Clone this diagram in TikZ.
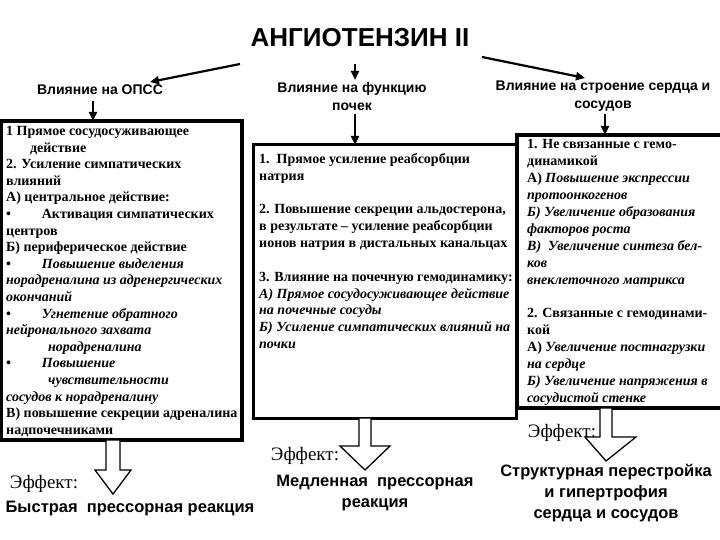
\documentclass[tikz,border=0pt]{standalone}
\usepackage{fontspec}
\setmainfont{Liberation Serif}
\newfontfamily\hsans{Liberation Sans}
\usetikzlibrary{arrows.meta}
\begin{document}
\begin{tikzpicture}[x=1pt,y=-1pt,
  arr/.style={-{Triangle[length=9pt,width=8pt]},line width=2.2pt},
  txt/.style={anchor=north west,align=left,font=\fontsize{14}{#1}\selectfont\bfseries,inner sep=0pt},
  head/.style={font=\hsans\bfseries\fontsize{14}{18}\selectfont,align=center},
  eff/.style={font=\fontsize{19}{21}\selectfont},
  res/.style={font=\hsans\bfseries\fontsize{16.5}{21}\selectfont,align=center},
  blk/.style={draw,line width=1.3pt,fill=white}]
\useasboundingbox (0,0) rectangle (720,540);
\node[font=\hsans\bfseries\fontsize{26}{28}\selectfont] (title) at (360,38) {АНГИОТЕНЗИН II};
\node[head] (h1) at (100,90) {Влияние на ОПСС};
\node[head] (h2) at (352,96) {Влияние на функцию\\почек};
\node[head] (h3) at (603,96) {Влияние на строение сердца и\\сосудов};
\coordinate (a1s) at (240,64); \coordinate (a1e) at (150,82);
\coordinate (a2s) at (355,64); \coordinate (a2e) at (355,80);
\coordinate (a3s) at (482,57); \coordinate (a3e) at (585,78);
\draw[arr] (a1s) -- (a1e);
\draw[arr] (a2s) -- (a2e);
\draw[arr] (a3s) -- (a3e);
% boxes
\draw[line width=3.5pt] (1,121) rectangle (242,440);
\draw[line width=3pt] (253,145) rectangle (516,418);
\draw[line width=4.5pt] (517,135) rectangle (722,408);
\coordinate (b1) at (93,121); \coordinate (b2) at (355,145); \coordinate (b3) at (605,135);
\draw[arr] (93,101) -- (b1);
\draw[arr] (355,114) -- (b2);
\draw[arr] (605,114) -- (b3);
\node[txt=16.6] (t1) at (6,126) {1 Прямое сосудосуживающее\\
\hspace{1.7em}действие\\
2. Усиление симпатических\\
влияний\\
А) центральное действие:\\
•\hspace{2.2em}Активация симпатических\\
центров\\
Б) периферическое действие\\
•\hspace{2.2em}\textit{Повышение выделения}\\
\textit{норадреналина из адренергических}\\
\textit{окончаний}\\
•\hspace{2.2em}\textit{Угнетение обратного}\\
\textit{нейронального захвата}\\
\hspace{3em}\textit{норадреналина}\\
•\hspace{2.2em}\textit{Повышение}\\
\hspace{3em}\textit{чувствительности}\\
\textit{сосудов к норадреналину}\\
В) повышение секреции адреналина\\
надпочечниками};
\node[txt=16.8] (t2b) at (259,153) {1.\ \ Прямое усиление реабсорбции\\
натрия\\[17pt]
2. Повышение секреции альдостерона,\\
в результате – усиление реабсорбции\\
ионов натрия в дистальных канальцах\\[17pt]
3. Влияние на почечную гемодинамику:\\
\textit{А) Прямое сосудосуживающее действие}\\
\textit{на почечные сосуды}\\
\textit{Б) Усиление симпатических влияний на}\\
\textit{почки}};
\node[txt=17] (t3) at (527,139) {1. Не связанные с гемо-\\
динамикой\\
А) \textit{Повышение экспрессии}\\
\textit{протоонкогенов}\\
\textit{Б) Увеличение образования}\\
\textit{факторов роста}\\
\textit{В)\ \ Увеличение синтеза бел-}\\
\textit{ков}\\
\textit{внеклеточного матрикса}\\[16pt]
2. Связанные с гемодинами-\\
кой\\
А) \textit{Увеличение постнагрузки}\\
\textit{на сердце}\\
\textit{Б) Увеличение напряжения в}\\
\textit{сосудистой стенке}};
% block arrows
\draw[blk] (106,440) -- (120,440) -- (120,470) -- (131,470) -- (113,494) -- (95,470) -- (106,470) -- cycle;
\draw[blk] (359,418) -- (371,418) -- (371,446) -- (390,446) -- (365,470) -- (340,446) -- (359,446) -- cycle;
\draw[blk] (600,408) -- (612,408) -- (612,437) -- (636,437) -- (606,461) -- (585,437) -- (600,437) -- cycle;
\node[eff] (e1) at (44,484) {Эффект:};
\node[eff] (e2) at (305,456) {Эффект:};
\node[eff] (e3) at (562,433) {Эффект:};
\node[res] (r1) at (130,509) {Быстрая\ \ прессорная реакция};
\node[res] (r2) at (375,493) {Медленная\ \ прессорная\\реакция};
\node[res] (r3) at (606,493) {Структурная перестройка\\и гипертрофия\\сердца и сосудов};
\end{tikzpicture}
\end{document}
